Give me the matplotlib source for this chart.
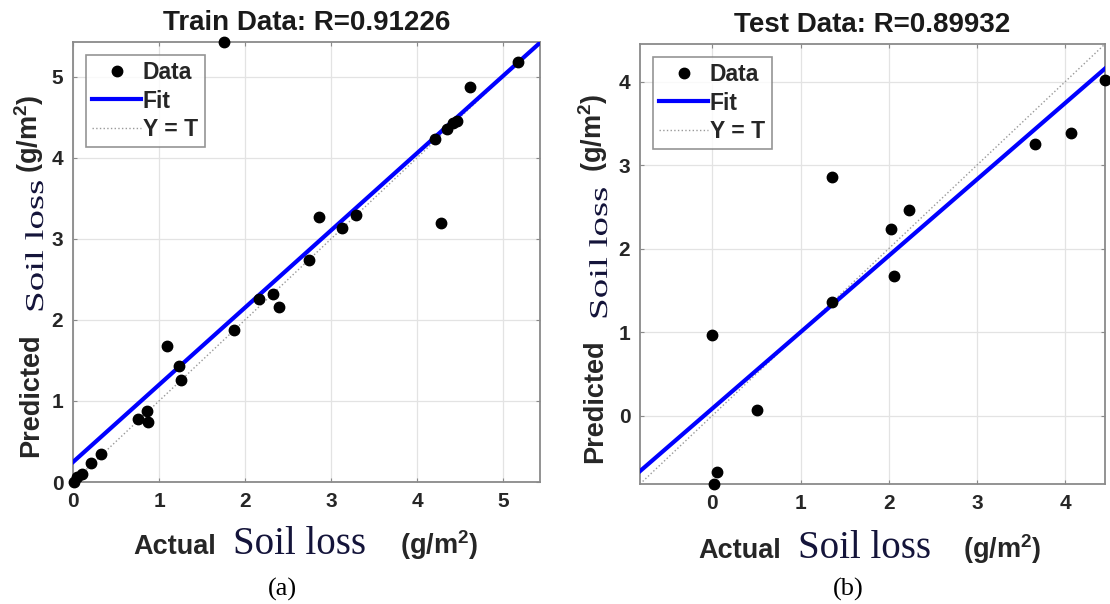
import matplotlib.pyplot as plt
from matplotlib.textpath import TextPath
from matplotlib.patches import PathPatch
from matplotlib.font_manager import FontProperties
from matplotlib.transforms import Affine2D, IdentityTransform

# values
train_actual = [0.01, 0.05, 0.10, 0.21, 0.33, 0.76, 0.86, 0.87, 1.09, 1.23, 1.26, 1.76, 1.87, 2.16,
                2.32, 2.40, 2.74, 2.86, 3.13, 3.29, 4.21, 4.28, 4.35, 4.42, 4.47, 4.62, 5.17]
train_pred = [0.00, 0.06, 0.10, 0.23, 0.34, 0.78, 0.88, 0.74, 1.68, 1.43, 1.26, 5.43, 1.88, 2.26,
              2.32, 2.16, 2.74, 3.27, 3.13, 3.30, 4.23, 3.20, 4.36, 4.43, 4.46, 4.88, 5.18]
train_fit = (0.953, 0.246)  # slope, intercept
train_r = "0.91226"

test_actual = [0.00, 0.05, 0.02, 0.51, 1.36, 1.36, 2.03, 2.23, 2.06, 3.66, 4.06, 4.45]
test_pred = [0.96, -0.68, -0.82, 0.07, 1.36, 2.86, 2.23, 2.46, 1.67, 3.25, 3.39, 4.02]
test_fit = (0.915, 0.084)
test_r = "0.89932"

W, H = 1110, 604
TXT = '#262626'
SOIL = '#14143a'

plt.rcParams['font.family'] = ['Liberation Sans', 'DejaVu Sans']
plt.rcParams['mathtext.fontset'] = 'custom'
plt.rcParams['mathtext.bf'] = 'Liberation Sans:bold'

fig = plt.figure(figsize=(W / 100, H / 100), dpi=100)


def box(l, t, r, b):
    return [l / W, 1 - b / H, (r - l) / W, (b - t) / H]


def regression_panel(ax, actual, pred, fit, title, ticks):
    lo = min(min(actual), min(pred))
    hi = max(max(actual), max(pred))
    ax.plot(actual, pred, 'o', color='black', markersize=7.5, label='Data', clip_on=False, zorder=4)
    xs = [lo, hi]
    ax.plot(xs, [fit[0] * x + fit[1] for x in xs], color='#0000ff', lw=3, label='Fit', zorder=3)
    ax.plot(xs, xs, ':', color='#999999', lw=1, label='Y = T', zorder=2)
    ax.set_xlim(lo, hi)
    ax.set_ylim(lo, hi)
    ax.set_xticks(ticks)
    ax.set_yticks(ticks)
    ax.grid(True, color='#e3e3e3', lw=0.9)
    ax.set_axisbelow(True)
    for s in ax.spines.values():
        s.set_color('#8a8a8a')
        s.set_linewidth(1.3)
    ax.tick_params(direction='in', length=3, width=0.8, color='#8a8a8a', top=True, right=True,
                   labelsize=15, labelcolor=TXT, pad=7)
    for lab in ax.get_xticklabels() + ax.get_yticklabels():
        lab.set_fontweight('bold')
    ax.set_title(title, fontsize=20, fontweight='bold', color='#1a1a1a', pad=9)
    leg = ax.legend(loc='upper left', prop={'weight': 'bold', 'size': 16.5},
                    fancybox=False, edgecolor='#7a7a7a', handlelength=2.1, handletextpad=0.1,
                    borderaxespad=0.55, labelspacing=0.22, borderpad=0.3)
    leg.get_frame().set_linewidth(1.2)
    for t in leg.get_texts():
        t.set_color(TXT)


ax1 = fig.add_axes(box(73, 42, 540, 482))
regression_panel(ax1, train_actual, train_pred, train_fit, f"Train Data: R={train_r}", [0, 1, 2, 3, 4, 5])

ax2 = fig.add_axes(box(640, 44, 1105, 484))
regression_panel(ax2, test_actual, test_pred, test_fit, f"Test Data: R={test_r}", [0, 1, 2, 3, 4])


def px(x, y):
    return x / W, 1 - y / H


def axis_label_x(x_act, x_soil, x_unit, base):
    fig.text(*px(x_act, base), 'Actual', fontsize=19.5, fontweight='bold', color=TXT, va='baseline')
    fig.text(*px(x_soil, base), 'Soil loss', fontsize=28, family='Liberation Serif', color=SOIL, va='baseline')
    fig.text(*px(x_unit, base), r'(g/m$^{\mathbf{2}}$)', fontsize=19.5, fontweight='bold', color=TXT,
             va='baseline')


def axis_label_y(base, y_pred, y_soil, y_unit):
    kw = dict(rotation=90, rotation_mode='anchor', ha='left', va='baseline')
    fig.text(*px(base, y_pred), 'Predicted', fontsize=19.5, fontweight='bold', color=TXT, **kw)
    fig.text(*px(base, y_unit), r'(g/m$^{\mathbf{2}}$)', fontsize=19.5, fontweight='bold', color=TXT, **kw)
    # the serif "Soil loss" on the y axis is squeezed in the reference
    tp = TextPath((0, 0), 'Soil loss', size=39, prop=FontProperties(family='Liberation Serif'))
    tr = Affine2D().scale(1, 0.66).rotate_deg(90).translate(base + 5, H - y_soil)
    fig.add_artist(PathPatch(tr.transform_path(tp), facecolor=SOIL, lw=0, transform=IdentityTransform()))


axis_label_x(133, 233, 400, 554)
axis_label_x(698, 798, 963, 558)
axis_label_y(38, 457, 313, 173)
axis_label_y(602, 463, 320, 172)

fig.text(*px(282, 596), '(a)', fontsize=19, family='Liberation Serif', ha='center', va='baseline')
fig.text(*px(848, 596), '(b)', fontsize=19, family='Liberation Serif', ha='center', va='baseline')

fig.savefig('out.png', dpi=100)
